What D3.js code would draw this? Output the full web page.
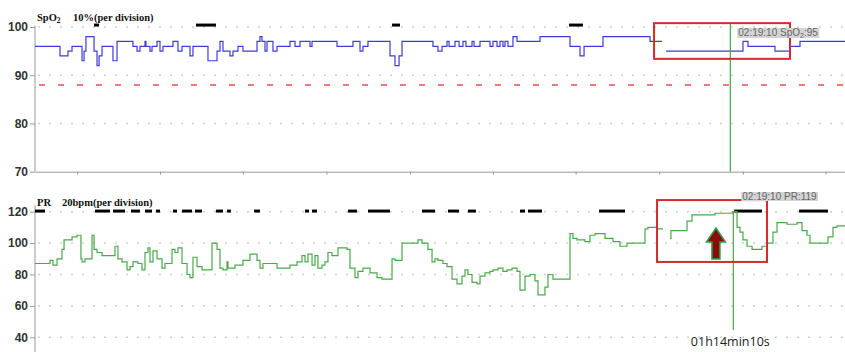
<!DOCTYPE html>
<html><head><meta charset="utf-8">
<script src="https://cdn.jsdelivr.net/npm/d3@7"></script>
<style>html,body{margin:0;padding:0;background:#fff;}svg{display:block;}</style>
</head><body>
<svg id="chart" width="845" height="352"></svg>
<script>
// ---- data (time in elapsed seconds) ----
const spo2Data = [[0,96],[160,94],[211,95],[237,96],[301,93],[314,95],[326,98],[378,95],[397,92],[410,94],[429,96],[499,93],[525,97],[627,96],[653,95],[672,96],[704,97],[710,96],[736,95],[749,96],[781,97],[800,95],[819,96],[883,97],[915,95],[941,96],[992,94],[1011,96],[1107,93],[1165,95],[1184,97],[1203,95],[1248,94],[1267,95],[1299,96],[1331,95],[1421,97],[1440,98],[1453,97],[1472,95],[1485,97],[1523,95],[1549,96],[1632,97],[1664,96],[1696,97],[1760,96],[1773,97],[1933,96],[2035,97],[2080,95],[2099,96],[2131,97],[2272,94],[2304,92],[2330,94],[2349,97],[2547,96],[2579,95],[2605,96],[2637,97],[2650,96],[2688,97],[2714,96],[2739,97],[2758,96],[2797,97],[2810,96],[2848,97],[2912,96],[2931,97],[2957,96],[2976,97],[2995,96],[3008,97],[3027,96],[3059,98],[3085,97],[3232,98],[3424,96],[3488,94],[3514,96],[3635,98],[3936,97],[4013,97],[4020,null],[4038,95],[4531,97],[4563,96],[4736,95],[4832,96],[4896,97],[5184,97]];
const prData = [[0,87],[96,89],[115,86],[141,90],[173,96],[186,102],[237,104],[269,105],[294,90],[301,88],[320,90],[365,105],[378,96],[397,94],[429,92],[512,98],[531,90],[557,88],[589,83],[608,85],[627,88],[659,87],[685,83],[704,94],[723,97],[736,88],[755,95],[781,90],[813,84],[832,87],[877,96],[896,94],[915,97],[941,87],[973,80],[992,78],[1011,91],[1037,85],[1069,83],[1133,100],[1165,96],[1184,84],[1203,83],[1229,88],[1235,84],[1280,86],[1331,89],[1376,93],[1421,89],[1440,84],[1459,87],[1549,84],[1632,86],[1677,88],[1709,92],[1728,88],[1747,93],[1773,86],[1792,92],[1811,84],[1837,86],[1856,88],[1875,94],[1901,92],[1939,97],[1997,96],[2016,84],[2048,78],[2067,82],[2099,84],[2144,81],[2189,78],[2221,77],[2285,90],[2304,89],[2349,100],[2451,102],[2477,100],[2515,96],[2541,88],[2560,90],[2579,89],[2611,87],[2637,85],[2669,77],[2701,74],[2733,79],[2752,83],[2771,80],[2797,75],[2829,74],[2848,79],[2880,81],[2912,82],[2931,83],[2963,84],[2995,82],[3021,83],[3053,84],[3085,82],[3104,70],[3136,79],[3168,80],[3200,76],[3219,67],[3264,72],[3283,80],[3315,77],[3424,106],[3443,103],[3469,102],[3520,101],[3552,105],[3584,106],[3648,103],[3699,101],[3744,98],[3789,100],[3904,109],[3923,110],[3981,109],[4019,109],[4030,null],[4064,103],[4070,108],[4173,114],[4205,118],[4352,119],[4467,120],[4493,110],[4512,107],[4531,102],[4557,98],[4589,96],[4653,98],[4685,100],[4723,107],[4749,113],[4813,112],[4877,113],[4909,108],[4941,105],[4960,100],[5075,104],[5107,110],[5133,111],[5184,111]];
const spo2Events = [[378,410],[1030,1158],[2285,2336],[3418,3507]];
const prEvents = [[0,64],[384,480],[499,576],[614,672],[704,749],[774,800],[883,909],[941,1005],[1024,1069],[1158,1203],[1229,1254],[1402,1440],[1728,1754],[1773,1805],[2003,2061],[2131,2272],[2477,2560],[2643,2714],[2771,2822],[3104,3136],[3155,3245],[3610,3776],[4474,4653],[4890,5075]];
const spo2Ticks = [70,80,90,100];
const prTicks = [40,60,80,100,120];
const timeTicks = [270,800,1330,1865,2400,2930,3460,3995,4530,5060];
const alarmLevel = 88;
const cursorTime = 4450;
const cursorLabel = "01h14min10s";
const cursorClock = "02:19:10";
const spo2AtCursor = 95;
const prAtCursor = 119;
const spo2Box = {t0:3962,t1:4832,v0:93.4,v1:100.8};
const prBox = {t0:3981,t1:4685,v0:88,v1:127.4};
const arrow = {t:4358,tip:109.6,headBase:100.7,tail:89.9};

// ---- scales ----
const svg = d3.select("#chart");
const x = d3.scaleLinear().domain([0,5184]).range([35,845]);
const yS = d3.scaleLinear().domain([70,100]).range([171.7,27]);
const yP = d3.scaleLinear().domain([40,120]).range([337.3,211.7]);
const axisCol = "#999";

function grid(y, ticks){
  svg.append("g").selectAll("line").data(ticks).join("line")
    .attr("x1",x(0)+3).attr("x2",845).attr("y1",d=>y(d)).attr("y2",d=>y(d))
    .attr("stroke","#cfcfcf").attr("stroke-width",1.5).attr("stroke-dasharray","2,9");
}
grid(yS,[80,90,100]);
grid(yP,prTicks);

// alarm line
svg.append("line").attr("x1",x(0)+4).attr("x2",845).attr("y1",yS(alarmLevel)).attr("y2",yS(alarmLevel))
  .attr("stroke","#f07878").attr("stroke-width",2).attr("stroke-dasharray","6,13");

function yAxis(y, ticks, top, bottom){
  const g = svg.append("g").attr("transform",`translate(${x(0)},0)`)
    .call(d3.axisLeft(y).tickValues(ticks).tickSize(5).tickPadding(2).tickSizeOuter(0));
  g.select(".domain").remove();
  g.selectAll(".tick line").attr("stroke",axisCol);
  g.selectAll(".tick text").attr("font-family","Liberation Sans, Arial, sans-serif").attr("font-size",12).attr("fill","#333").attr("font-weight","bold");
  svg.append("line").attr("x1",x(0)).attr("x2",x(0)).attr("y1",y(top)).attr("y2",y(bottom)).attr("stroke",axisCol);
}
yAxis(yS, spo2Ticks, 100.3, 70);
yAxis(yP, prTicks, 124, 30);

// x axis top panel
const gx = svg.append("g").attr("transform",`translate(0,${yS(70)})`)
  .call(d3.axisBottom(x).tickValues(timeTicks).tickSize(3).tickSizeOuter(0).tickFormat(""));
gx.select(".domain").attr("stroke",axisCol);
gx.selectAll(".tick line").attr("stroke",axisCol);

// event markers
function events(y, v, data){
  svg.append("g").selectAll("line").data(data).join("line")
    .attr("x1",d=>x(d[0])).attr("x2",d=>x(d[1])).attr("y1",y(v)).attr("y2",y(v))
    .attr("stroke","#000").attr("stroke-width",3);
}
events(yS, 100.4, spo2Events);
events(yP, 120.4, prEvents);

// series
function series(y, data, col){
  const line = d3.line().defined(d=>d[1]!==null).x(d=>x(d[0])).y(d=>y(d[1])).curve(d3.curveStepAfter);
  svg.append("path").datum(data).attr("d",line).attr("fill","none").attr("stroke",col).attr("stroke-width",1.2);
}
series(yS, spo2Data, "#3c3cdc");
series(yP, prData, "#4aa84a");

// panel titles
function title(yb, parts){
  const t = svg.append("text").attr("y",yb).attr("font-family","Liberation Serif, Times New Roman, serif")
    .attr("font-weight","bold").attr("font-size",10.5).attr("fill","#111");
  parts.forEach(p=>{
    const s = t.append("tspan").text(p.t);
    if(p.x!==undefined) s.attr("x",p.x);
    if(p.sub){ s.attr("font-size",7.5).attr("dy",2); }
    if(p.up){ s.attr("dy",-2); }
  });
}
title(21,[{t:"SpO",x:37},{t:"2",sub:true},{t:"10%(per division)",x:73,up:true}]);
title(206,[{t:"PR",x:37},{t:"20bpm(per division)",x:62}]);

// cursor
const cx = x(cursorTime);
svg.append("line").attr("x1",cx).attr("x2",cx).attr("y1",yS(100.6)).attr("y2",yS(70)).attr("stroke","#48a848").attr("stroke-width",1.2);
svg.append("line").attr("x1",cx+3).attr("x2",cx+3).attr("y1",yP(120.4)).attr("y2",yP(44.6)).attr("stroke","#48a848").attr("stroke-width",1.2);
svg.append("text").attr("x",cx).attr("y",346).attr("text-anchor","middle")
  .attr("font-family","Open Sans, Noto Sans, sans-serif").attr("font-size",12.5).attr("fill","#222").text(cursorLabel);

// red boxes
function box(y,b){
  svg.append("rect").attr("x",x(b.t0)).attr("y",y(b.v1)).attr("width",x(b.t1)-x(b.t0)).attr("height",y(b.v0)-y(b.v1))
    .attr("fill","none").attr("stroke","#d42a2a").attr("stroke-width",2);
}
box(yS,spo2Box);
box(yP,prBox);

// tooltips
function tip(tx, yb, parts){
  const g = svg.append("g");
  const r = g.append("rect").attr("fill","#d4d4d4");
  const t = g.append("text").attr("x",tx).attr("y",yb).attr("font-family","Liberation Sans, Arial, sans-serif")
    .attr("font-size",10).attr("fill","#666");
  parts.forEach(p=>{
    const s=t.append("tspan").text(p.t);
    if(p.sub) s.attr("font-size",7).attr("dy",2);
    if(p.up) s.attr("dy",-2);
  });
  const bb = t.node().getBBox();
  r.attr("x",bb.x-1).attr("y",bb.y+1).attr("width",bb.width+2).attr("height",bb.height-2);
}
tip(cx+8, 36, [{t:cursorClock+" SpO"},{t:"2",sub:true},{t:":"+spo2AtCursor,up:true}]);
tip(cx+12, 200, [{t:cursorClock+" PR:"+prAtCursor}]);

// arrow
const ax = x(arrow.t);
const ap = d3.path();
ap.moveTo(ax, yP(arrow.tip));
ap.lineTo(ax+9.5, yP(arrow.headBase));
ap.lineTo(ax+4, yP(arrow.headBase));
ap.lineTo(ax+4, yP(arrow.tail));
ap.lineTo(ax-4, yP(arrow.tail));
ap.lineTo(ax-4, yP(arrow.headBase));
ap.lineTo(ax-9.5, yP(arrow.headBase));
ap.closePath();
svg.append("path").attr("d",ap.toString()).attr("fill","#8e0b0b").attr("stroke","#2e9e50").attr("stroke-width",1.5).attr("stroke-linejoin","miter");
</script>
</body></html>
